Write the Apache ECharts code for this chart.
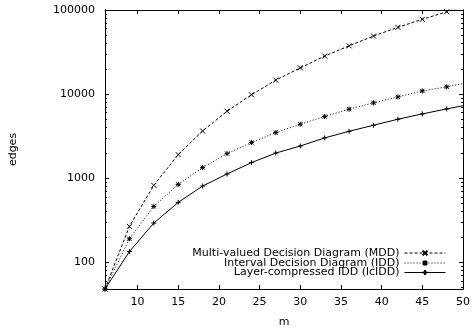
<!DOCTYPE html>
<html>
<head>
<meta charset="utf-8">
<script src="https://cdn.jsdelivr.net/npm/echarts@6/dist/echarts.min.js"></script>
<style>html,body{margin:0;padding:0;background:#fff;}#c{width:474px;height:333px;}</style>
</head>
<body>
<div id="c"></div>
<script>
const mValues = [6, 9, 12, 15, 18, 21, 24, 27, 30, 33, 36, 39, 42, 45, 48, 51];
const mddEdges = [48, 267, 820, 1905, 3640, 6250, 9800, 14650, 20500, 28300, 37500, 49000, 62200, 77500, 95400, 118000];
const iddEdges = [48, 190, 461, 843, 1334, 1960, 2650, 3485, 4380, 5410, 6610, 7860, 9260, 10900, 12200, 13900];
const lciddEdges = [48, 134, 292, 515, 805, 1120, 1530, 1990, 2410, 3010, 3610, 4260, 5020, 5810, 6660, 7590];
const seriesNames = ['Multi-valued Decision Diagram (MDD)', 'Interval Decision Diagram (IDD)', 'Layer-compressed IDD (lcIDD)'];
const xTicks = [10, 15, 20, 25, 30, 35, 40, 45, 50];
const yTicks = [100, 1000, 10000, 100000];
const yMinorTicks = [50, 60, 70, 80, 90, 200, 300, 400, 500, 600, 700, 800, 900,
  2000, 3000, 4000, 5000, 6000, 7000, 8000, 9000, 20000, 30000, 40000, 50000, 60000, 70000, 80000, 90000];

const FONT = 'DejaVu Sans';
const black = '#000';
const pair = arr => mValues.map((m, i) => [m, arr[i]]);

const symX = 'path://M0,0L10,10M10,0L0,10';
const symStar = 'path://M0,0L10,10M10,0L0,10M5,-1L5,11M-1,5L11,5';
const symPlus = 'path://M5,0L5,10M0,5L10,5';

function mkSeries(name, data, sym, dash, size) {
  return {
    name, type: 'line', data: pair(data), xAxisIndex: 0, yAxisIndex: 0,
    symbol: sym, symbolSize: size, clip: true,
    itemStyle: { color: black, borderColor: black, borderWidth: 1 },
    lineStyle: { color: black, width: 1, type: dash },
    emphasis: { disabled: true }
  };
}

function yAx(pos, ticks, len, labels) {
  return {
    type: 'log', logBase: 10, min: 48, max: 100000, position: pos,
    axisLine: { show: true, lineStyle: { color: black, width: 1 } },
    axisTick: { show: true, inside: true, length: len, customValues: ticks, lineStyle: { color: black, width: 1 } },
    axisLabel: labels ? { show: true, customValues: ticks, formatter: v => String(v), color: black, fontFamily: FONT, fontSize: 11, margin: 10 } : { show: false },
    splitLine: { show: false }, minorTick: { show: false }
  };
}

const legendTops = [247.5, 257.5, 267];
const legends = seriesNames.map((n, i) => ({
  data: [n], right: 28, top: legendTops[i], align: 'right', orient: 'vertical',
  padding: 0, itemWidth: 41, itemHeight: 6, selectedMode: false,
  lineStyle: { width: 1 },
  textStyle: { color: black, fontFamily: FONT, fontSize: 11 }
}));

const chart = echarts.init(document.getElementById('c'));
chart.setOption({
  animation: false,
  backgroundColor: '#fff',
  grid: { left: 97, right: 11, top: 10, bottom: 44, containLabel: false },
  legend: legends,
  xAxis: [
    {
      type: 'value', min: 6, max: 50, position: 'bottom',
      name: 'm', nameLocation: 'middle', nameGap: 28,
      nameTextStyle: { color: black, fontFamily: FONT, fontSize: 11 },
      axisLine: { show: true, lineStyle: { color: black, width: 1 } },
      axisTick: { show: true, inside: true, length: 4, customValues: xTicks, lineStyle: { color: black, width: 1 } },
      axisLabel: { customValues: xTicks, color: black, fontFamily: FONT, fontSize: 11, margin: 8 },
      splitLine: { show: false }
    },
    {
      type: 'value', min: 6, max: 50, position: 'top',
      axisLine: { show: true, lineStyle: { color: black, width: 1 } },
      axisTick: { show: true, inside: true, length: 4, customValues: xTicks, lineStyle: { color: black, width: 1 } },
      axisLabel: { show: false },
      splitLine: { show: false }
    }
  ],
  yAxis: [
    Object.assign(yAx('left', yTicks, 4, true), {
      name: 'edges', nameLocation: 'middle', nameGap: 86,
      nameTextStyle: { color: black, fontFamily: FONT, fontSize: 11 }
    }),
    yAx('left', yMinorTicks, 2, false),
    yAx('right', yTicks, 4, false),
    yAx('right', yMinorTicks, 2, false)
  ],
  series: [
    mkSeries(seriesNames[0], mddEdges, symX, [3, 2], 5),
    mkSeries(seriesNames[1], iddEdges, symStar, [1, 2], 5),
    mkSeries(seriesNames[2], lciddEdges, symPlus, 'solid', 5)
  ]
});
</script>
</body>
</html>
